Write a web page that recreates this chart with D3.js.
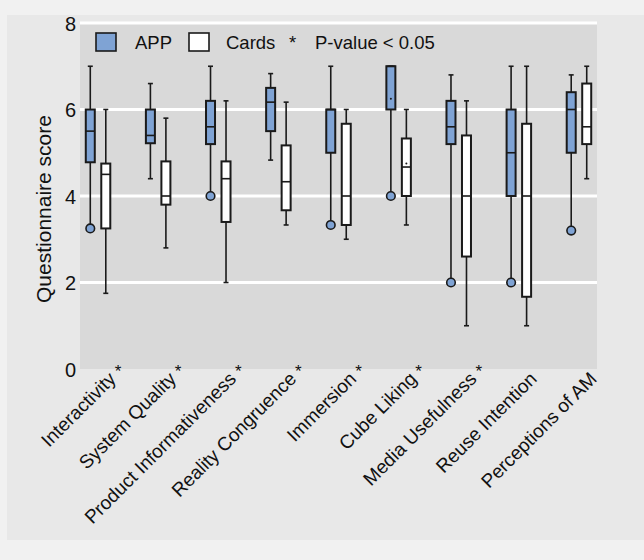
<!DOCTYPE html>
<html>
<head>
<meta charset="utf-8">
<script src="https://cdn.jsdelivr.net/npm/d3@7"></script>
<style>
  body { margin: 0; background: #f1f1f1; }
  text { font-family: "Liberation Sans", Arial, sans-serif; fill: #111; }
</style>
</head>
<body>
<div id="chart"></div>
<script>
// Questionnaire box plots, APP vs Cards

// Data
// =======================================
var categories = ["Interactivity", "System Quality", "Product Informativeness",
  "Reality Congruence", "Immersion", "Cube Liking", "Media Usefulness",
  "Reuse Intention", "Perceptions of AM"];
var significant = [true, true, true, true, true, true, true, false, false];

// APP: whisker high, q3, median, q1, whisker low, outlier
var appHigh   = [7.0, 6.6, 7.0, 6.83, 7.0, 7.0, 6.8, 7.0, 6.8];
var appQ3     = [6.0, 6.0, 6.2, 6.5, 6.0, 7.0, 6.2, 6.0, 6.4];
var appMedian = [5.5, 5.4, 5.6, 6.17, 6.0, 7.0, 5.6, 5.0, 6.0];
var appQ1     = [4.78, 5.22, 5.2, 5.5, 5.0, 6.0, 5.2, 4.0, 5.0];
var appLow    = [3.25, 4.4, 4.0, 4.83, 3.33, 4.0, 2.0, 2.0, 3.2];
var appOut    = [3.25, null, 4.0, null, 3.33, 4.0, 2.0, 2.0, 3.2];
var appMean   = [null, null, null, null, null, 6.25, null, null, null];

// Cards
var cardHigh   = [6.0, 5.8, 6.2, 6.17, 6.0, 6.0, 6.2, 7.0, 7.0];
var cardQ3     = [4.75, 4.8, 4.8, 5.17, 5.67, 5.33, 5.4, 5.67, 6.6];
var cardMedian = [4.5, 4.0, 4.4, 4.33, 4.0, 4.67, 4.0, 4.0, 5.6];
var cardQ1     = [3.25, 3.8, 3.4, 3.67, 3.33, 4.0, 2.6, 1.67, 5.2];
var cardLow    = [1.75, 2.8, 2.0, 3.33, 3.0, 3.33, 1.0, 1.0, 4.4];
var cardMean   = [null, null, null, null, null, 4.75, null, null, null];

var yTicks = [0, 2, 4, 6, 8];

// Housekeeping
// =======================================
var width = 644;
var height = 560;
var plot = { left: 80, right: 597, top: 23, bottom: 369 };
var boxW = 9;
var pairGap = 7.75;
var blue = "#7fa3d4";
var ink = "#1a1a1a";

var svg = d3.select("#chart")
    .append("svg")
    .attr("width", width)
    .attr("height", height);

// figure background
svg.append("rect")
    .attr("x", 7).attr("y", 15)
    .attr("width", width - 7).attr("height", 525)
    .attr("fill", "#e8e8e8");

svg.append("rect")
    .attr("x", plot.left).attr("y", plot.top)
    .attr("width", plot.right - plot.left)
    .attr("height", plot.bottom - plot.top)
    .attr("fill", "#d9d9d9");

// Scales
var x = d3.scalePoint()
    .domain(categories)
    .range([plot.left, plot.right])
    .padding(0.3);

var y = d3.scaleLinear()
    .domain([0, 8])
    .range([plot.bottom, plot.top]);

// Grid + y axis
// =======================================
svg.append("g")
    .selectAll("line")
    .data(yTicks.filter(function(d) { return d > 0; }))
    .enter().append("line")
    .attr("x1", plot.left).attr("x2", plot.right)
    .attr("y1", function(d) { return y(d); })
    .attr("y2", function(d) { return y(d); })
    .attr("stroke", "#fff")
    .attr("stroke-width", 3);

var yAxis = svg.append("g")
    .attr("transform", "translate(" + (plot.left - 4) + ",0)")
    .call(d3.axisLeft(y).tickValues(yTicks).tickSize(0).tickPadding(0).tickFormat(d3.format("d")));
yAxis.select(".domain").remove();
yAxis.selectAll("text")
    .attr("font-size", 20)
    .attr("dy", "0.36em")
    .style("font-family", "Liberation Sans, Arial, sans-serif")
    .attr("fill", "#111");

svg.append("text")
    .attr("transform", "translate(51,209)rotate(-90)")
    .attr("text-anchor", "middle")
    .attr("font-size", 21)
    .text("Questionnaire score");

// X labels
// =======================================
var xLab = svg.append("g");
categories.forEach(function(c, i) {
    var ax = x(c) + 19, ay = 380;
    xLab.append("text")
        .attr("transform", "translate(" + ax + "," + ay + ")rotate(-45)")
        .attr("text-anchor", "end")
        .attr("font-size", 19)
        .text(c);
    if (significant[i]) {
        xLab.append("text")
            .attr("x", ax + 1)
            .attr("y", 377)
            .attr("text-anchor", "middle")
            .attr("font-size", 17)
            .text("*");
    }
});

// Boxes
// =======================================
function drawBoxes(cls, offset, fill, high, q3, med, q1, low, out, mean) {
    var g = svg.append("g").attr("class", cls);
    categories.forEach(function(c, i) {
        var cx = x(c) + offset;
        // whisker
        g.append("line")
            .attr("x1", cx).attr("x2", cx)
            .attr("y1", y(high[i])).attr("y2", y(low[i]))
            .attr("stroke", ink).attr("stroke-width", 1.6);
        g.append("line")
            .attr("x1", cx - 2.5).attr("x2", cx + 2.5)
            .attr("y1", y(high[i])).attr("y2", y(high[i]))
            .attr("stroke", ink).attr("stroke-width", 1.6);
        if (!out || out[i] == null) {
            g.append("line")
                .attr("x1", cx - 2.5).attr("x2", cx + 2.5)
                .attr("y1", y(low[i])).attr("y2", y(low[i]))
                .attr("stroke", ink).attr("stroke-width", 1.6);
        }
        g.append("rect")
            .attr("x", cx - boxW / 2)
            .attr("y", y(q3[i]))
            .attr("width", boxW)
            .attr("height", y(q1[i]) - y(q3[i]))
            .attr("fill", fill)
            .attr("stroke", ink)
            .attr("stroke-width", 2);
        g.append("line")
            .attr("x1", cx - boxW / 2).attr("x2", cx + boxW / 2)
            .attr("y1", y(med[i])).attr("y2", y(med[i]))
            .attr("stroke", ink).attr("stroke-width", 1.6);
        if (mean[i] != null) {
            g.append("circle")
                .attr("cx", cx).attr("cy", y(mean[i]))
                .attr("r", 1).attr("fill", ink);
        }
        if (out && out[i] != null) {
            g.append("circle")
                .attr("cx", cx).attr("cy", y(out[i]))
                .attr("r", 4.3)
                .attr("fill", blue)
                .attr("stroke", ink).attr("stroke-width", 1.6);
        }
    });
}

drawBoxes("app", -pairGap, blue, appHigh, appQ3, appMedian, appQ1, appLow, appOut, appMean);
drawBoxes("cards", pairGap, "#fff", cardHigh, cardQ3, cardMedian, cardQ1, cardLow, null, cardMean);

// Legend
// =======================================
var legend = svg.append("g").attr("transform", "translate(96,33)");
legend.append("rect").attr("x", 0).attr("y", 0).attr("width", 20).attr("height", 18)
    .attr("fill", blue).attr("stroke", ink).attr("stroke-width", 1.6);
legend.append("text").attr("x", 39).attr("y", 16).attr("font-size", 18.5).text("APP");
legend.append("rect").attr("x", 93).attr("y", 0).attr("width", 20).attr("height", 18)
    .attr("fill", "#fff").attr("stroke", ink).attr("stroke-width", 1.6);
legend.append("text").attr("x", 130).attr("y", 16).attr("font-size", 18.5).text("Cards");
legend.append("text").attr("x", 193).attr("y", 16).attr("font-size", 18.5).text("*");
legend.append("text").attr("x", 219).attr("y", 16).attr("font-size", 18.5).text("P-value < 0.05");
</script>
</body>
</html>
